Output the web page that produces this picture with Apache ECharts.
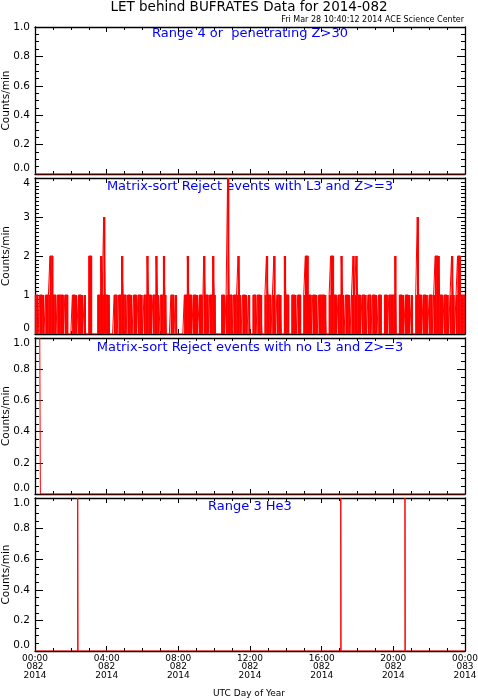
<!DOCTYPE html>
<html>
<head>
<meta charset="utf-8">
<title>LET behind BUFRATES Data for 2014-082</title>
<script src="https://cdn.jsdelivr.net/npm/echarts@6/dist/echarts.min.js"></script>
<style>
html, body { margin: 0; padding: 0; background: #fff; }
#chart { width: 478px; height: 700px; }
</style>
</head>
<body>
<div id="chart"></div>
<script>
// x axis in minutes from 2014-082 00:00 UTC
var tickDays = ['082', '082', '082', '082', '082', '082', '083'];
var tickYear = '2014';

// panel 1: Range 4 or penetrating Z>30 (hourly bins)
var penetrating = [0,0,0,0,0,0,0,0,0,0,0,0,0,0,0,0,0,0,0,0,0,0,0,0];

// panel 2: Matrix-sort Reject events with L3 and Z>=3 (5 minute bins, 4 hours per array)
var rejL3_00 = [1,1,0,1,1,1,0,1,1,1, 2,2, 1,1,0,1,1,1,1,0,1,1, 0,0,0, 1,1,1,0,1,1,1,0,1, 0,0, 2,2, 0,0,0,0, 1,1, 2,1, 3, 1];
var rejL3_04 = [1,1, 0,0,0, 1,1,0,1,1, 2, 1,1,0,1,1,1,0,1,1,0,1,1,1,0,1,1, 2, 1,1,0,1,1, 2, 1,0,1,1, 2, 1, 0,0,0, 1,1,0,1, 0];
var rejL3_08 = [0,0,0,0, 1,1, 2, 1,1,0,1,1,1,0,1,1,0, 2, 1,1,0,1,1, 2, 1, 0,0,0,0, 1,1,0,1, 4, 1,1,0,1,1,1, 2, 1,0,1,1,1,0,1];
var rejL3_12 = [0,0,1,1,0,1,1,1,0,0,1, 2, 1,1,0,1, 2, 0,1,1,1,0,0, 2, 1,1,0,0,1,1,1,0,1,1,0,0,1, 2,2, 1,1,0,1,1,1,0,1,1];
var rejL3_16 = [1,1,1,0,0,1, 2,2, 1,1,0,1,1, 2, 1,0,1,1,1,0,1, 2, 1, 2, 1,1,0,1,1,1,0,1,1,0,1,1,1,0,1,1,0,0,1,1,0,1,1,1];
var rejL3_20 = [1, 2, 0,0,1, 1,1,0,1,1,1,0,1,0,0,1, 3, 1,1,0,1,1,1,0,1,1,0,1, 2,2,2, 1,1,0,1,1,1,0,1, 2, 1,0,1, 2,2, 1,1,1];

// panel 3: Matrix-sort Reject events with no L3 and Z>=3 (minute, value)
var rejNoL3Min = [16, 18, 1440];
var rejNoL3Val = [1, 0, 0];

// panel 4: Range 3 He3 (minute, value)
var he3Min = [0, 143, 144, 1024, 1025, 1239, 1240, 1440];
var he3Val = [0, 1, 0, 1, 0, 1, 0, 0];

var FONT = 'DejaVu Sans';
var RED = '#ff0000';
var BLUE = '#0000ff';

function binned(values, width) {
    var out = values.map(function (v, i) { return [i * width, v]; });
    out.push([values.length * width, values[values.length - 1]]);
    return out;
}
function centred(values, width) {
    return values.map(function (v, i) { return [i * width + width / 2, v]; });
}
function paired(mins, vals) {
    return mins.map(function (m, i) { return [m, vals[i]]; });
}

var rejL3 = [].concat(rejL3_00, rejL3_04, rejL3_08, rejL3_12, rejL3_16, rejL3_20);

var panels = [
    { top: 27, height: 147, max: 1, interval: 0.2, minor: 4, digits: 1, data: binned(penetrating, 60), alignTop: 'middle' },
    { top: 178, height: 156, max: 4, interval: 1, minor: 10, digits: 0, data: binned(rejL3, 5), alignTop: 'top', fill: centred(rejL3, 5) },
    { top: 338, height: 156, max: 1, interval: 0.2, minor: 4, digits: 1, data: paired(rejNoL3Min, rejNoL3Val), alignTop: 'top' },
    { top: 498, height: 153, max: 1, interval: 0.2, minor: 4, digits: 1, data: paired(he3Min, he3Val), alignTop: 'top' }
];

var axisLine = { show: true, onZero: false, lineStyle: { color: '#000', width: 1.3 } };
var grids = [], xAxes = [], yAxes = [], series = [];

panels.forEach(function (p, i) {
    grids.push({ left: 35, right: 13, top: p.top, height: p.height, containLabel: false, outerBoundsMode: 'none' });
    ['bottom', 'top'].forEach(function (pos) {
        xAxes.push({
            gridIndex: i, type: 'value', position: pos,
            min: 0, max: 1440, interval: 240,
            axisLine: axisLine,
            axisTick: { show: true, inside: true, length: 5, lineStyle: { color: '#000' } },
            minorTick: { show: true, splitNumber: 4, length: 3, lineStyle: { color: '#000' } },
            splitLine: { show: false },
            axisLabel: {
                show: i === 3 && pos === 'bottom',
                margin: 3,
                fontFamily: FONT, fontSize: 9, lineHeight: 8.5, color: '#000',
                formatter: function (v) {
                    var h = Math.round(v / 60) % 24;
                    return (h < 10 ? '0' : '') + h + ':00\n' + tickDays[Math.round(v / 240)] + '\n' + tickYear;
                }
            }
        });
    });
    ['left', 'right'].forEach(function (pos) {
        yAxes.push({
            gridIndex: i, type: 'value', position: pos,
            min: 0, max: p.max, interval: p.interval,
            name: pos === 'left' ? 'Counts/min' : '',
            nameLocation: 'middle', nameGap: 23, nameMoveOverlap: false,
            nameTextStyle: { fontFamily: FONT, fontSize: 10.5, color: '#000' },
            axisLine: axisLine,
            axisTick: { show: true, inside: true, length: 8, lineStyle: { color: '#000' } },
            minorTick: { show: true, splitNumber: p.minor, length: 4, lineStyle: { color: '#000' } },
            splitLine: { show: false },
            axisLabel: {
                show: pos === 'left', margin: 5,
                fontFamily: FONT, fontSize: 10.5, color: '#000',
                verticalAlignMinLabel: 'bottom',
                verticalAlignMaxLabel: p.alignTop,
                formatter: function (v) { return v.toFixed(p.digits); }
            }
        });
    });
    if (p.fill) {
        // dense counts show up as a solid red band
        series.push({
            type: 'bar', xAxisIndex: i * 2, yAxisIndex: i * 2,
            barWidth: 2, itemStyle: { color: RED },
            data: p.fill
        });
    }
    series.push({
        type: 'line', xAxisIndex: i * 2, yAxisIndex: i * 2,
        step: 'end', showSymbol: false, symbol: 'none',
        lineStyle: { color: RED, width: 1 },
        data: p.data
    });
});

function label(text, x, y, size, color, align) {
    return {
        type: 'text', x: x, y: y, silent: true,
        style: { text: text, fill: color, fontFamily: FONT, fontSize: size, align: align || 'center', verticalAlign: 'middle' }
    };
}

var chart = echarts.init(document.getElementById('chart'));
chart.setOption({
    animation: false,
    backgroundColor: '#fff',
    grid: grids,
    xAxis: xAxes,
    yAxis: yAxes,
    series: series,
    graphic: [
        label('LET behind BUFRATES Data for 2014-082', 249, 7, 13.5, '#000'),
        label('Fri Mar 28 10:40:12 2014 ACE Science Center', 464, 20, 8, '#000', 'right'),
        label('Range 4 or  penetrating Z>30', 250, 34, 13, BLUE),
        label('Matrix-sort Reject events with L3 and Z>=3', 250, 187, 13, BLUE),
        label('Matrix-sort Reject events with no L3 and Z>=3', 250, 348, 13, BLUE),
        label('Range 3 He3', 250, 507, 13, BLUE),
        label('UTC Day of Year', 249, 694, 9, '#000')
    ]
});
</script>
</body>
</html>
